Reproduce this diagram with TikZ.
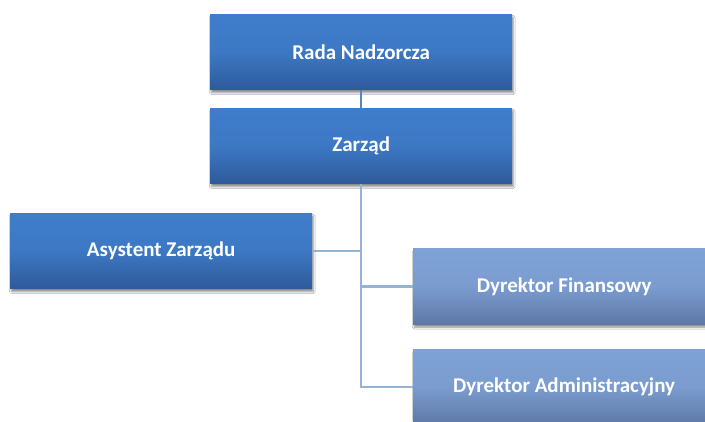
\documentclass[tikz,border=0pt]{standalone}
\usepackage{fontspec}
\setmainfont{Carlito}
\usetikzlibrary{shadows.blur}
\definecolor{darktop}{HTML}{3F7DCB}
\definecolor{darkbot}{HTML}{2E5A9A}
\definecolor{lighttop}{HTML}{7FA2D6}
\definecolor{lightbot}{HTML}{5E78A6}
\definecolor{linkc}{HTML}{95B3D7}
\definecolor{toplink}{HTML}{5B84BD}
\tikzset{
  orgbox/.style={rectangle, anchor=north west, minimum width=302pt, minimum height=75.5pt,
    inner sep=0pt, text=white, font=\bfseries\fontsize{21}{24}\selectfont,
    blur shadow={shadow xshift=1pt, shadow yshift=-3pt, shadow blur steps=6, shadow opacity=45}},
  darkbox/.style={orgbox, top color=darktop, bottom color=darkbot, middle color=darktop!85!darkbot},
  lightbox/.style={orgbox, top color=lighttop, bottom color=lightbot, middle color=lighttop!85!lightbot},
  link/.style={draw=linkc, line width=2.4pt},
}
\begin{document}
\begin{tikzpicture}[x=1pt,y=1pt]
\useasboundingbox (0,0) rectangle (705,-421);
\clip (0,0) rectangle (705,-421);
\fill[white] (0,0) rectangle (705,-421);
\node[darkbox] (rada) at (210,-14) {Rada Nadzorcza};
\node[darkbox] (zarzad) at (210,-108) {Zarząd};
\node[darkbox] (asyst) at (10,-213) {Asystent Zarządu};
\node[lightbox] (fin) at (413,-248.5) {Dyrektor Finansowy};
\node[lightbox] (admin) at (413,-349) {Dyrektor Administracyjny};
\draw[draw=toplink, line width=2.4pt] (rada.south) -- (zarzad.north);
\draw[link] (zarzad.south) -- (zarzad.south |- admin.west) -- (admin.west);
\draw[link] (zarzad.south |- asyst.east) -- (asyst.east);
\draw[link] (zarzad.south |- fin.west) -- (fin.west);
\end{tikzpicture}
\end{document}
